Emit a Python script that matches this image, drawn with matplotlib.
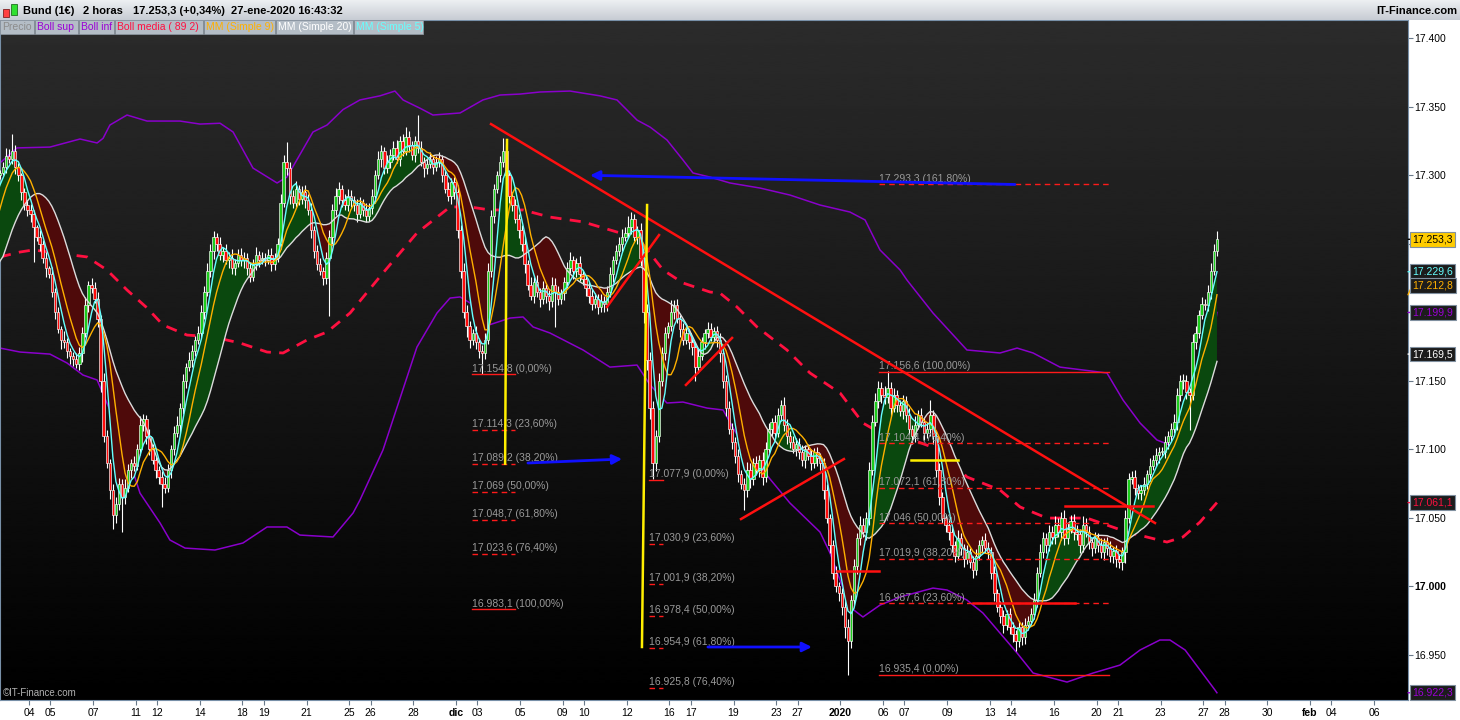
import numpy as np
import pandas as pd
import matplotlib
matplotlib.use("Agg")
import matplotlib.pyplot as plt
from matplotlib.patches import Rectangle

plt.rcParams['font.family'] = ['Liberation Sans', 'DejaVu Sans']

# Bund 2-hour closes, one row per trading day (7 bars), from 29-oct-2019
first_day = -4          # trading-day index of the first row (04-nov = 0)
bars_per_day = 7
closes = [
    17.185, 17.180, 17.190, 17.195, 17.200, 17.205, 17.210,  # 29 oct
    17.215, 17.220, 17.228, 17.235, 17.250, 17.262, 17.270,  # 30
    17.280, 17.288, 17.295, 17.300, 17.302, 17.306, 17.314,  # 31
    17.312, 17.318, 17.306, 17.300, 17.288, 17.278, 17.275,  # 01 nov
    17.272, 17.262, 17.255, 17.250, 17.240, 17.232, 17.228,  # 04
    17.215, 17.200, 17.188, 17.180, 17.178, 17.172, 17.168,  # 05
    17.166, 17.162, 17.170, 17.185, 17.205, 17.220, 17.218,  # 06
    17.210, 17.195, 17.150, 17.110, 17.090, 17.070, 17.052,  # 07
    17.060, 17.075, 17.065, 17.072, 17.085, 17.090, 17.088,  # 08
    17.100, 17.118, 17.122, 17.110, 17.100, 17.092, 17.085,  # 11
    17.080, 17.075, 17.072, 17.085, 17.100, 17.112, 17.118,  # 12
    17.130, 17.150, 17.160, 17.165, 17.172, 17.180, 17.185,  # 13
    17.200, 17.215, 17.230, 17.245, 17.255, 17.250, 17.242,  # 14
    17.245, 17.238, 17.240, 17.232, 17.236, 17.242, 17.238,  # 15
    17.240, 17.232, 17.226, 17.235, 17.242, 17.238, 17.240,  # 18
    17.238, 17.242, 17.235, 17.240, 17.250, 17.280, 17.310,  # 19
    17.305, 17.285, 17.280, 17.290, 17.283, 17.288, 17.282,  # 20
    17.275, 17.260, 17.245, 17.235, 17.230, 17.225, 17.240,  # 21
    17.255, 17.275, 17.285, 17.290, 17.282, 17.278, 17.285,  # 22
    17.282, 17.278, 17.272, 17.280, 17.275, 17.270, 17.276,  # 25
    17.285, 17.300, 17.312, 17.318, 17.305, 17.310, 17.315,  # 26
    17.320, 17.312, 17.325, 17.318, 17.328, 17.322, 17.315,  # 27
    17.325, 17.320, 17.310, 17.305, 17.308, 17.312, 17.306,  # 28
    17.310, 17.312, 17.300, 17.290, 17.285, 17.295, 17.288,  # 29
    17.260, 17.230, 17.200, 17.190, 17.180, 17.185, 17.178,  # 02 dic
    17.172, 17.170, 17.180, 17.230, 17.270, 17.290, 17.300,  # 03
    17.310, 17.318, 17.300, 17.285, 17.278, 17.268, 17.260,  # 04
    17.250, 17.235, 17.220, 17.212, 17.222, 17.215, 17.210,  # 05
    17.218, 17.212, 17.208, 17.220, 17.215, 17.210, 17.214,  # 06
    17.222, 17.232, 17.238, 17.230, 17.236, 17.228, 17.224,  # 09
    17.218, 17.212, 17.206, 17.210, 17.204, 17.208, 17.206,  # 10
    17.215, 17.228, 17.238, 17.245, 17.250, 17.255, 17.258,  # 11
    17.262, 17.268, 17.255, 17.260, 17.240, 17.200, 17.165,  # 12
    17.130, 17.090, 17.110, 17.150, 17.170, 17.185, 17.190,  # 13
    17.200, 17.205, 17.195, 17.188, 17.180, 17.185, 17.178,  # 16
    17.175, 17.160, 17.168, 17.178, 17.185, 17.188, 17.182,  # 17
    17.186, 17.180, 17.170, 17.150, 17.130, 17.115, 17.105,  # 18
    17.095, 17.082, 17.075, 17.070, 17.085, 17.078, 17.090,  # 19
    17.085, 17.092, 17.080, 17.100, 17.115, 17.120, 17.112,  # 20
    17.125, 17.132, 17.118, 17.110, 17.105, 17.100, 17.104,  # 23
    17.098, 17.092, 17.100, 17.095, 17.090, 17.098, 17.094,  # 27
    17.090, 17.070, 17.050, 17.030, 17.010, 17.000, 16.995,  # 30
    16.985, 16.970, 16.960, 16.990, 17.015, 17.035, 17.045,  # 02 ene
    17.040, 17.050, 17.085, 17.120, 17.135, 17.145, 17.140,  # 03
    17.138, 17.145, 17.130, 17.140, 17.132, 17.128, 17.135,  # 06
    17.125, 17.115, 17.110, 17.118, 17.125, 17.120, 17.112,  # 07
    17.115, 17.125, 17.110, 17.085, 17.065, 17.050, 17.045,  # 08
    17.040, 17.030, 17.022, 17.035, 17.028, 17.020, 17.025,  # 09
    17.018, 17.012, 17.022, 17.030, 17.034, 17.028, 17.025,  # 10
    17.010, 16.995, 16.985, 16.978, 16.972, 16.980, 16.970,  # 13
    16.965, 16.960, 16.970, 16.963, 16.972, 16.975, 16.980,  # 14
    16.990, 17.010, 17.025, 17.035, 17.030, 17.040, 17.036,  # 15
    17.045, 17.040, 17.050, 17.035, 17.042, 17.048, 17.040,  # 16
    17.038, 17.030, 17.045, 17.040, 17.032, 17.028, 17.035,  # 17
    17.030, 17.025, 17.032, 17.028, 17.022, 17.026, 17.020,  # 20
    17.018, 17.025, 17.050, 17.078, 17.080, 17.072, 17.068,  # 21
    17.070, 17.075, 17.082, 17.088, 17.092, 17.096, 17.098,  # 22
    17.098, 17.105, 17.110, 17.115, 17.120, 17.140, 17.150,  # 23
    17.150, 17.142, 17.140, 17.178, 17.185, 17.198, 17.206,  # 24
    17.205, 17.215, 17.230, 17.245, 17.2533,                 # 27
]

# upper / lower shadows in thousandths
up_wick = [
    3, 2, 4, 3, 2, 3, 4,   3, 4, 2, 3, 5, 3, 2,   4, 3, 3, 5, 2, 4, 6,
    5, 12, 4, 3, 2, 3, 4,  4, 3, 2, 5, 3, 4, 2,   5, 3, 4, 2, 6, 3, 2,
    3, 4, 5, 4, 6, 3, 5,   4, 5, 3, 6, 4, 3, 5,   5, 4, 3, 6, 4, 3, 5,
    4, 6, 4, 3, 5, 4, 3,   3, 4, 5, 4, 3, 5, 6,   4, 5, 3, 6, 4, 3, 5,
    5, 4, 6, 5, 4, 3, 5,   3, 5, 4, 6, 3, 4, 5,   4, 3, 5, 4, 6, 3, 4,
    3, 4, 5, 3, 4, 6, 5,   14, 5, 4, 6, 3, 4, 5,  4, 5, 3, 4, 5, 3, 4,
    5, 4, 6, 5, 3, 4, 5,   4, 3, 5, 4, 3, 5, 4,   5, 4, 6, 4, 3, 5, 4,
    5, 6, 4, 5, 7, 4, 3,   4, 19, 5, 3, 4, 5, 3,  4, 5, 3, 4, 5, 3, 4,
    5, 4, 6, 5, 4, 3, 5,   3, 4, 5, 6, 5, 4, 3,   4, 9, 5, 4, 3, 5, 4,
    4, 5, 3, 6, 4, 5, 3,   5, 3, 4, 6, 5, 4, 3,   4, 5, 6, 3, 4, 5, 3,
    3, 4, 5, 4, 3, 5, 4,   4, 5, 3, 4, 5, 6, 4,   8, 5, 4, 3, 5, 4, 6,
    6, 5, 4, 6, 5, 4, 3,   9, 4, 5, 3, 4, 5, 3,   4, 3, 5, 4, 3, 5, 4,
    3, 4, 5, 3, 4, 5, 4,   4, 5, 3, 4, 6, 5, 4,   5, 4, 6, 5, 4, 3, 5,
    5, 4, 6, 4, 3, 5, 4,   4, 5, 3, 4, 5, 3, 4,   3, 4, 5, 3, 4, 5, 3,
    4, 5, 6, 4, 5, 4, 6,   5, 4, 6, 5, 6, 5, 4,   6, 12, 4, 5, 3, 4, 5,
    4, 5, 3, 6, 4, 5, 3,   5, 11, 4, 3, 5, 4, 3,  4, 5, 3, 6, 4, 3, 5,
    3, 4, 5, 4, 3, 5, 4,   4, 5, 3, 4, 5, 3, 4,   4, 3, 5, 4, 5, 3, 4,
    5, 4, 6, 5, 4, 5, 4,   6, 5, 4, 6, 5, 4, 5,   5, 4, 6, 5, 4, 3, 5,
    4, 5, 3, 4, 5, 3, 4,   3, 4, 6, 5, 4, 5, 3,   4, 5, 3, 6, 4, 5, 4,
    4, 5, 3, 4, 6, 5, 4,   5, 4, 3, 6, 5, 4, 5,   4, 5, 6, 5, 6,
]
dn_wick = [
    2, 4, 3, 2, 3, 2, 3,   3, 2, 4, 3, 2, 4, 3,   3, 4, 2, 3, 3, 2, 4,
    3, 4, 5, 4, 6, 3, 5,   6, 25, 3, 5, 4, 6, 3,  4, 5, 3, 7, 4, 5, 6,
    5, 3, 4, 6, 3, 5, 4,   3, 6, 8, 5, 4, 6, 10,  6, 4, 25, 5, 3, 6, 4,
    3, 4, 5, 6, 4, 3, 6,   5, 17, 4, 3, 6, 4, 3,  6, 4, 5, 3, 5, 4, 3,
    4, 5, 3, 4, 6, 5, 4,   5, 3, 6, 4, 5, 3, 4,   6, 5, 4, 3, 4, 5, 3,
    4, 3, 5, 4, 3, 4, 3,   5, 6, 4, 3, 5, 4, 6,   4, 6, 5, 4, 3, 5, 4,
    43, 5, 4, 6, 5, 3, 4,  5, 4, 6, 3, 5, 4, 3,   4, 5, 3, 6, 4, 3, 5,
    4, 3, 5, 4, 3, 5, 4,   5, 4, 3, 6, 4, 3, 5,   3, 4, 5, 3, 4, 6, 5,
    6, 5, 4, 8, 6, 4, 5,   5, 15, 4, 3, 4, 5, 3,  5, 4, 6, 5, 4, 3, 6,
    5, 6, 4, 3, 5, 4, 6,   4, 5, 6, 4, 26, 5, 4,  5, 4, 3, 6, 4, 5, 4,
    6, 5, 4, 3, 5, 4, 6,   5, 4, 6, 3, 4, 5, 3,   4, 5, 3, 5, 6, 8, 7,
    8, 12, 6, 5, 4, 5, 4,  4, 5, 3, 6, 4, 3, 5,   6, 10, 4, 3, 5, 4, 3,
    4, 5, 6, 5, 6, 4, 5,   5, 6, 4, 14, 5, 6, 4,  4, 5, 6, 4, 3, 5, 4,
    3, 4, 5, 6, 4, 3, 5,   5, 4, 6, 3, 5, 4, 6,   5, 6, 4, 6, 5, 4, 6,
    6, 8, 25, 5, 4, 6, 5,  4, 6, 5, 4, 3, 5, 6,   5, 4, 6, 3, 5, 4, 6,
    5, 4, 6, 5, 3, 4, 5,   4, 5, 6, 5, 6, 4, 5,   6, 5, 4, 3, 5, 6, 4,
    5, 6, 4, 3, 5, 4, 5,   5, 6, 4, 5, 6, 4, 5,   6, 7, 4, 6, 5, 4, 3,
    4, 5, 3, 4, 6, 4, 5,   5, 4, 6, 5, 4, 3, 6,   4, 6, 5, 4, 5, 6, 4,
    5, 4, 6, 5, 4, 5, 6,   5, 6, 8, 4, 3, 5, 4,   5, 3, 4, 5, 3, 4, 6,
    3, 4, 5, 4, 3, 6, 5,   6, 5, 26, 4, 5, 4, 3,  3, 4, 5, 3, 4,
]

# Bollinger (89, 2), sampled along the trading-day axis
boll_up_d = [-1.36, -0.56, 0.98, 2.39, 3.19, 3.47, 3.79, 4.59, 5.53, 7.07, 8.01, 8.95,
             9.56, 10.49, 11.62, 12.08, 13.3, 13.96, 14.71, 15.5, 16.44, 17.14, 17.52,
             18.31, 18.92, 20.19, 21.26, 22.06, 23.0, 23.93, 25.34, 26.74, 27.54, 28.48,
             29.09, 29.88, 30.63, 31.1, 31.9, 32.83, 34.24, 35.64, 37.05, 38.45, 39.16,
             39.86, 40.8, 41.12, 42.34, 43.93, 45.48, 46.28, 47.03, 48.29, 50.49, 51.24,
             52.04, 52.83, 53.44, 53.58, 54.24, 54.85, 55.46, 55.64]
boll_up = [17.309, 17.320, 17.3206, 17.3265, 17.3236, 17.327, 17.3367, 17.344, 17.3396,
           17.3396, 17.3374, 17.338, 17.3316, 17.3053, 17.2944, 17.2987, 17.3316, 17.3367,
           17.348, 17.355, 17.358, 17.3615, 17.355, 17.349, 17.344, 17.3455, 17.355,
           17.3586, 17.3593, 17.3608, 17.3615, 17.358, 17.355, 17.3403, 17.3352, 17.3258,
           17.3112, 17.3017, 17.2987, 17.2944, 17.2907, 17.2856, 17.2783, 17.2732, 17.2674,
           17.2455, 17.2309, 17.2236, 17.1995, 17.1725, 17.1703, 17.1739, 17.1703, 17.1600,
           17.1557, 17.1360, 17.1192, 17.1068, 17.1031, 17.1068, 17.1309, 17.1455, 17.1798,
           17.1999]
boll_lo_d = [-1.36, -0.42, 0.98, 1.78, 2.53, 3.19, 3.79, 4.59, 5.2, 6.14, 6.6, 7.31, 8.71,
             10.02, 11.15, 12.08, 12.69, 14.24, 15.18, 15.5, 16.58, 18.17, 19.11, 19.72,
             20.19, 20.66, 21.26, 22.53, 23.14, 23.61, 24.4, 25.95, 27.21, 28.48, 29.09,
             29.88, 30.63, 31.76, 32.51, 33.3, 34.24, 35.64, 37.05, 37.52, 38.45, 39.06,
             39.86, 40.8, 42.34, 43.0, 43.93, 44.68, 45.48, 46.28, 47.03, 48.62, 49.84,
             51.1, 52.04, 52.97, 53.44, 54.15, 54.85, 55.55, 55.64]
boll_lo = [17.1739, 17.1710, 17.1695, 17.1630, 17.1542, 17.1506, 17.1287, 17.0973, 17.0680,
           17.0462, 17.0338, 17.0279, 17.0265, 17.0316, 17.0433, 17.0433, 17.0374, 17.0360,
           17.0535, 17.0629, 17.0995, 17.1746, 17.1995, 17.2104, 17.2112, 17.2068, 17.1893,
           17.1958, 17.1966, 17.1893, 17.1849, 17.1725, 17.1600, 17.1615, 17.1470, 17.1338,
           17.1345, 17.1301, 17.1287, 17.1068, 17.0871, 17.0608, 17.0396, 17.0243, 16.9849,
           16.9776, 16.9863, 16.9922, 16.9987, 16.9973, 16.9900, 16.9805, 16.9659, 16.9513,
           16.9367, 16.9301, 16.9367, 16.9425, 16.9535, 16.9608, 16.9608, 16.9535, 16.9389,
           16.9243, 16.9223]
boll_mid_d = [-1.36, -0.42, 0.19, 1.31, 2.72, 3.65, 4.59, 5.53, 6.28, 7.4, 8.62, 9.88, 11.15,
              11.9, 13.02, 13.96, 15.04, 16.58, 18.17, 19.72, 20.66, 21.59, 23.14, 24.4,
              25.95, 27.54, 28.48, 29.7, 30.63, 31.9, 32.36, 33.16, 34.1, 35.5, 36.58, 37.99,
              39.06, 40.19, 41.4, 42.67, 43.93, 45.48, 46.42, 47.68, 49.55, 51.43, 53.3,
              54.05, 54.85, 55.64]
boll_mid = [17.2404, 17.2440, 17.2455, 17.2433, 17.2404, 17.2309, 17.2163, 17.2032, 17.1907,
            17.1834, 17.1820, 17.1776, 17.1710, 17.1703, 17.1798, 17.1856, 17.1995, 17.2287,
            17.2579, 17.2769, 17.2769, 17.2747, 17.2747, 17.2695, 17.2660, 17.2586, 17.2550,
            17.2309, 17.2214, 17.2148, 17.2141, 17.2039, 17.1893, 17.1725, 17.1557, 17.1411,
            17.1192, 17.1090, 17.1068, 17.0995, 17.0798, 17.0703, 17.0579, 17.0498, 17.0498,
            17.0396, 17.0323, 17.0360, 17.0469, 17.0611]

# Fibonacci levels (price, percent) and their span in trading days
fib1_levels = [17.1548, 17.1143, 17.0892, 17.0690, 17.0487, 17.0236, 16.9831]
fib1_pct = [0, 23.6, 38.2, 50, 61.8, 76.4, 100]
fib1_span = (20.75, 22.76)
fib2_levels = [17.0779, 17.0309, 17.0019, 16.9784, 16.9549, 16.9258]
fib2_pct = [0, 23.6, 38.2, 50, 61.8, 76.4]
fib2_span = (29.04, 29.70)
fib3_levels = [17.2933, 17.1566, 17.1044, 17.0721, 17.0460, 17.0199, 16.9876, 16.9354]
fib3_pct = [161.8, 100, 76.4, 61.8, 50, 38.2, 23.6, 0]
fib3_span = (39.81, 50.59)

# hand-drawn studies: ((day, price), (day, price))
red_lines = [((21.64, 17.3374), (52.74, 17.0462)),
             ((27.07, 17.2039), (29.51, 17.2564)),
             ((30.77, 17.1470), (32.93, 17.1813)),
             ((33.35, 17.0491), (38.17, 17.0929)),
             ((37.85, 17.0110), (39.81, 17.0110)),
             ((44.22, 16.9877), (48.99, 16.9877)),
             ((48.52, 17.0586), (52.65, 17.0586))]
yellow_lines = [((22.39, 17.3258), (22.30, 17.0895)),
                ((28.95, 17.2783), (28.71, 16.9557)),
                ((41.31, 17.0922), (43.51, 17.0922))]
blue_arrows = [((46.18, 17.2933), (26.28, 17.3000)),
               ((23.37, 17.0900), (27.78, 17.0929)),
               ((31.80, 16.9557), (36.67, 16.9557))]

# last values shown on the price scale
last_values = [17.2533, 17.2296, 17.2128, 17.1999, 17.1695, 17.0611, 16.9223]
last_colors = ['black', '#66ffff', '#ffb000', '#9b00d6', '#ffffff', '#ff1040', '#9b00d6']
last_shift = [0, 0, 6.5, 0, 0, 0, 0]   # points, keeps the tags apart

tick_days = [0, 1, 3, 5, 6, 8, 10, 11, 13, 15, 16, 18, 20, 21, 23, 25, 26, 28, 30, 31, 33,
             35, 36, 38, 40, 41, 43, 45, 46, 48, 50, 51, 53, 55, 56, 58, 60, 61, 63]
tick_labels = ['04', '05', '07', '11', '12', '14', '18', '19', '21', '25', '26', '28', 'dic',
               '03', '05', '09', '10', '12', '16', '17', '19', '23', '27', '2020', '06', '07',
               '09', '13', '14', '16', '20', '21', '23', '27', '28', '30', 'feb', '04', '06']


def fmt_price(v):
    s = f"{v:.4f}"
    ip, dp = s.split('.')
    out = ip + '.' + dp[:3]
    if dp[3] != '0':
        out += ',' + dp[3]
    return out


W, H = 1460, 720
fig = plt.figure(figsize=(W / 100, H / 100), dpi=100, facecolor='white')
ax = fig.add_axes([0, 20 / H, 1408 / W, 680 / H])

# dark gradient background
ax.imshow(np.linspace(0.17, 0.0, 256)[:, None], cmap='gray', vmin=0, vmax=1,
          extent=(0, 1, 0, 1), transform=ax.transAxes, aspect='auto', zorder=0,
          interpolation='bilinear')

c = np.array(closes)
n = len(c)
i = np.arange(n)
x = first_day + i // bars_per_day + (i % bars_per_day + 0.5) / bars_per_day
o = np.r_[c[0], c[:-1]]
hi = np.maximum(o, c) + np.array(up_wick) / 1000
lo = np.minimum(o, c) - np.array(dn_wick) / 1000

s = pd.Series(c)
ma5 = s.rolling(5, min_periods=1).mean().values
ma9 = s.rolling(9, min_periods=1).mean().values
ma20 = s.rolling(20, min_periods=1).mean().values

# Bollinger bands
ax.plot(boll_up_d, boll_up, color='#8a00cc', lw=1.1, zorder=2)
ax.plot(boll_lo_d, boll_lo, color='#8a00cc', lw=1.1, zorder=2)
ax.plot(boll_mid_d, boll_mid, color='#ff1040', lw=2, ls=(0, (4, 3)), zorder=2)

# ribbon between fast and slow averages
ax.fill_between(x, ma5, ma20, where=ma5 >= ma20, interpolate=True, color='#0a480e', lw=0, zorder=3)
ax.fill_between(x, ma5, ma20, where=ma5 < ma20, interpolate=True, color='#4e0a0a', lw=0, zorder=3)

# candles
up = c >= o
ax.vlines(x, lo, hi, color='white', lw=0.8, zorder=4)
body_lo = np.minimum(o, c)
body_h = np.maximum(np.abs(c - o), 0.0008)
ax.bar(x[up], body_h[up], bottom=body_lo[up], width=0.115, color='#1ccc1c',
       edgecolor='white', linewidth=0.45, zorder=5)
ax.bar(x[~up], body_h[~up], bottom=body_lo[~up], width=0.115, color='#ff0a0a',
       edgecolor='white', linewidth=0.45, zorder=5)

ax.plot(x, ma20, color='#dcdcdc', lw=1, zorder=6)
ax.plot(x, ma9, color='#ffb000', lw=1, zorder=6)
ax.plot(x, ma5, color='#66ffff', lw=1, zorder=6)


def fib(levels, pcts, span):
    for lv, p in zip(levels, pcts):
        ls = '-' if p in (0, 100) else (0, (4, 3))
        ax.plot(span, [lv, lv], color='#ff1a1a', lw=1, ls=ls, zorder=7)
        pct = f"{p:.2f}".replace('.', ',')
        txt = f"{fmt_price(lv)} ({pct}%)"
        ax.annotate(txt, (span[0], lv), xytext=(0, 0.5), textcoords='offset points',
                    ha='left', va='bottom', color='#9a9a9a', fontsize=7.5, zorder=8)


fib(fib1_levels, fib1_pct, fib1_span)
fib(fib2_levels, fib2_pct, fib2_span)
fib(fib3_levels, fib3_pct, fib3_span)

for (a, b) in red_lines:
    ax.plot([a[0], b[0]], [a[1], b[1]], color='#ff1010', lw=1.8, zorder=9)
for (a, b) in yellow_lines:
    ax.plot([a[0], b[0]], [a[1], b[1]], color='#ffee00', lw=1.8, zorder=9)
for (a, b) in blue_arrows:
    ax.annotate('', xy=b, xytext=a, zorder=9,
                arrowprops=dict(arrowstyle='-|>', color='#1010ff', lw=2,
                                mutation_scale=14, shrinkA=0, shrinkB=0))

ax.set_xlim(-1.358, 64.59)
ax.set_ylim(16.91701, 17.41336)

# price scale on the right; 17.250 and 17.200 sit under the value tags
yt = np.round(np.arange(16.95, 17.401, 0.05), 3)
hidden = (17.25, 17.2)
ax.yaxis.tick_right()
ax.set_yticks(yt, labels=['' if any(abs(v - h) < 1e-6 for h in hidden) else f"{v:.3f}"
                          for v in yt])
for t in ax.get_yticklabels():
    if t.get_text() == '17.000':
        t.set_fontweight('bold')
ax.tick_params(axis='y', length=3.5, color='#6a7a8a', labelsize=7.5, pad=1, labelcolor='black')

ax.set_xticks(tick_days, labels=tick_labels)
for t in ax.get_xticklabels():
    if t.get_text() in ('dic', '2020', 'feb'):
        t.set_fontweight('bold')
ax.tick_params(axis='x', length=3.5, color='#6a7a8a', labelsize=7.5, pad=2.5, labelcolor='black')
for sp in ax.spines.values():
    sp.set_color('#7890a8')

yax = ax.get_yaxis_transform()
for v, col, dy in zip(last_values, last_colors, last_shift):
    is_price = col == 'black'
    ax.annotate('', (1.0, v), xycoords=yax, xytext=(3, dy), textcoords='offset points',
                annotation_clip=False, zorder=10,
                arrowprops=dict(arrowstyle='-', color=col, lw=1, shrinkA=0, shrinkB=0))
    ax.annotate(fmt_price(v), (1.0, v), xycoords=yax, xytext=(3.2, dy),
                textcoords='offset points', ha='left', va='center', color=col,
                fontsize=7.5, annotation_clip=False, zorder=11,
                bbox=dict(boxstyle='square,pad=0.22',
                          fc='#ffcc00' if is_price else '#1c1c1c', ec='#8090a0', lw=0.8))

# header bar
hax = fig.add_axes([0, 1 - 20 / H, 1, 20 / H])
grad = np.linspace(0, 1, 32)[:, None, None]
top_c = np.array([0.93, 0.94, 0.95])
bot_c = np.array([0.78, 0.80, 0.83])
hax.imshow(top_c + (bot_c - top_c) * grad, aspect='auto', extent=(0, 1, 0, 1))
hax.axis('off')


def fx(px):
    return px / W


def fy(py):
    return 1 - py / H


# small candle logo
fig.patches.append(Rectangle((fx(3), fy(17)), fx(6), 8 / H, transform=fig.transFigure,
                             fc='#ff4040', ec='#802020', lw=0.6, zorder=5))
fig.patches.append(Rectangle((fx(11), fy(15)), fx(6), 11 / H, transform=fig.transFigure,
                             fc='#30e030', ec='#207020', lw=0.6, zorder=5))
head_parts = [(23, 'Bund (1€)'), (83, '2 horas'), (133, '17.253,3 (+0,34%)'),
              (231, '27-ene-2020 16:43:32')]
for px, t in head_parts:
    fig.text(fx(px), fy(11), t, fontsize=8, fontweight='bold', va='center', ha='left')
fig.text(fx(1457), fy(11), 'IT-Finance.com', fontsize=8, fontweight='bold',
         va='center', ha='right')

# legend strip
legend_items = [('Precio', '#8c8c8c'), ('Boll sup', '#9b00d6'), ('Boll inf', '#9b00d6'),
                ('Boll media ( 89 2)', '#ff1040'), ('MM (Simple 9)', '#ffb000'),
                ('MM (Simple 20)', '#ffffff'), ('MM (Simple 5)', '#66ffff')]
edges = [0, 35, 79, 115, 204, 276, 354, 424]
for k, (lab, col) in enumerate(legend_items):
    x0, x1 = edges[k], edges[k + 1] - 1
    fig.patches.append(Rectangle((fx(x0), fy(34)), fx(x1 - x0), 13.5 / H,
                                 transform=fig.transFigure, fc='#b4bdc6', ec='#8a949e',
                                 lw=0.6, zorder=5))
    fig.text(fx(x0 + 2), fy(27.5), lab, color=col, fontsize=7.5, va='center', ha='left',
             zorder=6)

fig.text(fx(3), fy(693), '©IT-Finance.com', color='#b0b0b0', fontsize=7, va='center')

fig.savefig('out.png', dpi=100, facecolor='white')
